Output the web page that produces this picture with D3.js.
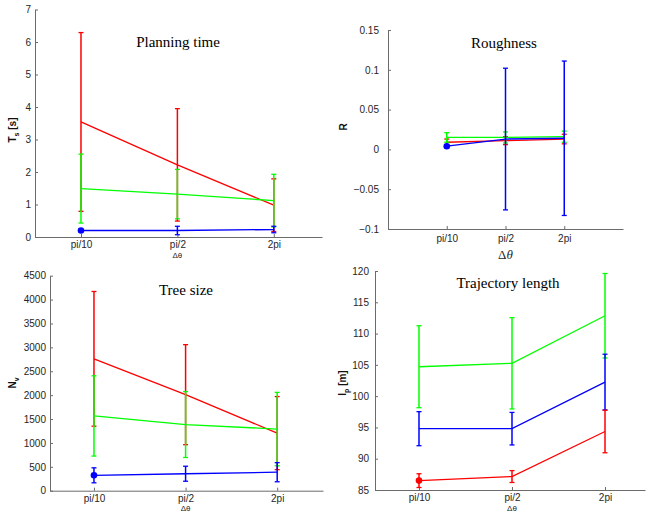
<!DOCTYPE html>
<html>
<head>
<meta charset="utf-8">
<script src="https://cdn.jsdelivr.net/npm/d3@7"></script>
<style>
  body { margin: 0; background: #fff; }
  svg { display: block; }
  .tick text { font-family: "Liberation Sans", Arial, sans-serif; fill: #262626; }
  .domain, .tick line { stroke: #6b6b6b; }
</style>
</head>
<body>
<script>
// categories on the x axis
var dtheta = ["pi/10", "pi/2", "2pi"];

// planning time T_s [s]
var tsRed = [3.54, 2.22, 0.98],   tsRedErr = [2.75, 1.73, 0.81];
var tsGreen = [1.49, 1.32, 1.12], tsGreenErr = [1.06, 0.76, 0.81];
var tsBlue = [0.20, 0.20, 0.23],  tsBlueErr = [0.03, 0.13, 0.10];

// roughness R
var rRed = [0.009, 0.011, 0.013],   rRedErr = [0.004, 0.005, 0.006];
var rGreen = [0.015, 0.015, 0.016], rGreenErr = [0.006, 0.007, 0.007];
var rBlue = [0.004, 0.013, 0.014],  rBlueErr = [0.002, 0.089, 0.097];

// tree size N_v
var nRed = [2760, 2010, 1205],   nRedErr = [1410, 1047, 765];
var nGreen = [1565, 1385, 1290], nGreenErr = [840, 690, 768];
var nBlue = [322, 355, 387],     nBlueErr = [157, 157, 200];

// trajectory length l_p [m]
var lRed = [86.5, 87.15, 94.35],   lRedErr = [1.1, 0.95, 3.4];
var lGreen = [104.7, 105.25, 112.85], lGreenErr = [6.55, 7.3, 6.75];
var lBlue = [94.8, 94.8, 102.25],  lBlueErr = [2.72, 2.6, 4.45];

var ticksTs = [0, 1, 2, 3, 4, 5, 6, 7];
var ticksR = [-0.1, -0.05, 0, 0.05, 0.1, 0.15];
var ticksN = [0, 500, 1000, 1500, 2000, 2500, 3000, 3500, 4000, 4500];
var ticksL = [85, 90, 95, 100, 105, 110, 115, 120];

var RED = "#ff0000", GREEN = "#00ff00", BLUE = "#0000ff";

var svg = d3.select("body").append("svg").attr("width", 649).attr("height", 512);

function panel(p) {
  var x = d3.scaleLinear().domain(p.xDomain).range(p.xRange);
  var y = d3.scaleLinear().domain(p.yDomain).range(p.yRange);
  var g = svg.append("g");

  g.append("g")
    .attr("transform", "translate(0," + p.yRange[0] + ")")
    .call(d3.axisBottom(x).tickValues([1, 2, 3]).tickFormat(function(d){ return dtheta[d - 1]; })
      .tickSizeInner(-3).tickSizeOuter(0).tickPadding(p.xPad))
    .call(function(a){ a.selectAll("text").attr("font-size", 10); });

  g.append("g")
    .attr("transform", "translate(" + p.xRange[0] + ",0)")
    .call(d3.axisLeft(y).tickValues(p.ticks).tickFormat(d3.format("~g"))
      .tickSizeInner(-3).tickSizeOuter(0).tickPadding(p.yPad))
    .call(function(a){ a.selectAll("text").attr("font-size", 10); });

  var line = d3.line().x(function(d, i){ return x(i + 1); }).y(function(d){ return y(d); });

  p.series.forEach(function(s) {
    var sg = g.append("g");
    sg.append("path").datum(s.mean).attr("d", line)
      .attr("fill", "none").attr("stroke", s.color).attr("stroke-width", 1.3);
    s.mean.forEach(function(m, i) {
      var cx = x(i + 1), top = y(m + s.err[i]), bot = y(m - s.err[i]);
      sg.append("line").attr("x1", cx).attr("x2", cx).attr("y1", top).attr("y2", bot)
        .attr("stroke", s.color).attr("stroke-width", 1.5);
      [top, bot].forEach(function(yy) {
        sg.append("line").attr("x1", cx - 2.5).attr("x2", cx + 2.5).attr("y1", yy).attr("y2", yy)
          .attr("stroke", s.color).attr("stroke-width", 1.3);
      });
    });
    if (s.marker) {
      sg.append("circle").attr("cx", x(1)).attr("cy", y(s.mean[0])).attr("r", 3.3).attr("fill", s.color);
    }
  });

  g.append("text").attr("x", p.title[1]).attr("y", p.title[2]).attr("text-anchor", "middle")
    .attr("font-family", "'Liberation Serif', 'Times New Roman', serif").attr("font-size", 15)
    .text(p.title[0]);

  var yl = g.append("text").attr("transform", "translate(" + p.ylab[0] + "," + p.ylab[1] + ") rotate(-90)")
    .attr("text-anchor", "middle").attr("font-family", "'Liberation Sans', Arial, sans-serif")
    .attr("font-weight", "bold").attr("font-size", 10).attr("fill", "#111");
  yl.append("tspan").text(p.ylab[2]);
  if (p.ylab[3]) yl.append("tspan").attr("font-size", 7).attr("dy", 3).text(p.ylab[3]);
  if (p.ylab[4]) yl.append("tspan").attr("dy", -3).text(p.ylab[4]);

  if (p.serifLabel) {
    var t = g.append("text").attr("x", x(2)).attr("y", p.dLabelY).attr("text-anchor", "middle")
      .attr("font-family", "'Liberation Serif', serif").attr("font-size", 13).attr("fill", "#262626");
    t.append("tspan").text("Δ");
    t.append("tspan").attr("font-style", "italic").text("θ");
  } else {
    g.append("text").attr("x", x(2)).attr("y", p.dLabelY).attr("text-anchor", "middle")
      .attr("font-family", "'Liberation Sans', Arial, sans-serif").attr("font-size", 8).attr("fill", "#262626")
      .text("Δθ");
  }
}

panel({
  xDomain: [0.523, 3.5], xRange: [35, 322], yDomain: [0, 7], yRange: [237, 9.5],
  ticks: ticksTs, xPad: 4, yPad: 4, dLabelY: 258,
  title: ["Planning time", 178, 47], ylab: [16, 130, "T", "s", " [s]"],
  series: [
    {color: RED, mean: tsRed, err: tsRedErr},
    {color: GREEN, mean: tsGreen, err: tsGreenErr},
    {color: BLUE, mean: tsBlue, err: tsBlueErr, marker: true}
  ]
});

panel({
  xDomain: [0, 4], xRange: [388, 623], yDomain: [-0.1, 0.15], yRange: [229, 30],
  ticks: ticksR, xPad: 6, yPad: 9, dLabelY: 259, serifLabel: true,
  title: ["Roughness", 504, 48], ylab: [347, 127, "R"],
  series: [
    {color: RED, mean: rRed, err: rRedErr},
    {color: GREEN, mean: rGreen, err: rGreenErr},
    {color: BLUE, mean: rBlue, err: rBlueErr, marker: true}
  ]
});

panel({
  xDomain: [0.52, 3.5], xRange: [50, 323], yDomain: [0, 4500], yRange: [490.7, 275.7],
  ticks: ticksN, xPad: 4, yPad: 4, dLabelY: 511,
  title: ["Tree size", 186, 295], ylab: [16, 383, "N", "v"],
  series: [
    {color: RED, mean: nRed, err: nRedErr},
    {color: GREEN, mean: nGreen, err: nGreenErr},
    {color: BLUE, mean: nBlue, err: nBlueErr, marker: true}
  ]
});

panel({
  xDomain: [0.527, 3.43], xRange: [375, 645], yDomain: [85, 120], yRange: [490, 271],
  ticks: ticksL, xPad: 4, yPad: 6, dLabelY: 511,
  title: ["Trajectory length", 508, 288], ylab: [346, 383, "l", "p", " [m]"],
  series: [
    {color: GREEN, mean: lGreen, err: lGreenErr},
    {color: BLUE, mean: lBlue, err: lBlueErr},
    {color: RED, mean: lRed, err: lRedErr, marker: true}
  ]
});
</script>
</body>
</html>
